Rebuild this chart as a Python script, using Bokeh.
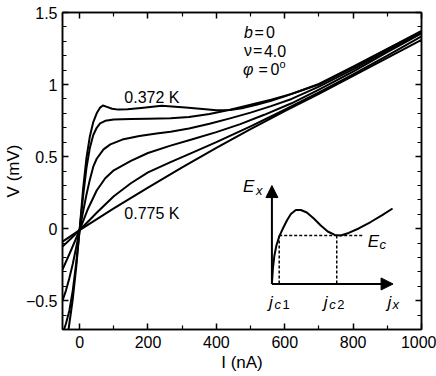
from bokeh.plotting import figure
from bokeh.models import Range1d, LinearAxis, FixedTicker, Label, Arrow, NormalHead
from bokeh.embed import file_html
from bokeh.resources import INLINE

# ---------------- data ----------------
x_major = [0, 200, 400, 600, 800, 1000]
x_minor = [100, 300, 500, 700, 900]
y_major = [-0.5, 0, 0.5, 1, 1.5]
y_minor = [-0.6, -0.4, -0.3, -0.2, -0.1, 0.1, 0.2, 0.3, 0.4, 0.6, 0.7, 0.8, 0.9,
           1.1, 1.2, 1.3, 1.4]
y_labels = {-0.5: "\u22120.5", 0: "0", 0.5: "0.5", 1: "1", 1.5: "1.5"}
x_title = "I (nA)"
y_title = "V (mV)"

# V-I curves (I in nA, V in mV), 0.372 K (top) ... 0.775 K (bottom)
I1 = [-36, -30, -20, -10, 0, 10, 20, 30, 40, 50, 60, 68, 80, 95, 113, 140, 180, 220,
      240, 270, 310, 360, 400, 440, 480, 520, 560, 600, 650, 700, 800, 900, 1000]
V1 = [-0.76, -0.66, -0.49, -0.27, -0.01, 0.27, 0.49, 0.64, 0.74, 0.80, 0.84, 0.855,
      0.845, 0.832, 0.826, 0.828, 0.838, 0.848, 0.852, 0.848, 0.84, 0.83, 0.822, 0.824,
      0.838, 0.862, 0.888, 0.918, 0.96, 1.005, 1.125, 1.248, 1.372]

I2 = [-47, -40, -30, -20, -10, 0, 10, 20, 30, 40, 50, 60, 75, 100, 150, 200, 266, 320,
      380, 440, 500, 560, 620, 700, 800, 900, 1000]
V2 = [-0.71, -0.66, -0.57, -0.43, -0.24, -0.01, 0.22, 0.42, 0.56, 0.65, 0.70, 0.73,
      0.748, 0.757, 0.761, 0.763, 0.766, 0.774, 0.795, 0.825, 0.86, 0.895, 0.935, 1.0,
      1.12, 1.245, 1.368]

I3 = [-50, -40, -30, -20, -10, 0, 10, 20, 30, 40, 50, 70, 90, 125, 175, 225, 266, 320,
      380, 440, 500, 560, 620, 700, 800, 900, 1000]
V3 = [-0.50, -0.43, -0.345, -0.245, -0.13, -0.01, 0.115, 0.235, 0.34, 0.43, 0.485, 0.55,
      0.585, 0.618, 0.643, 0.66, 0.672, 0.695, 0.728, 0.765, 0.805, 0.85, 0.9, 0.985,
      1.105, 1.235, 1.362]

I4 = [-50, -25, 0, 25, 50, 75, 100, 150, 200, 266, 330, 400, 470, 540, 620, 700, 800,
      900, 1000]
V4 = [-0.285, -0.15, -0.01, 0.14, 0.265, 0.35, 0.405, 0.47, 0.525, 0.576, 0.62, 0.67,
      0.725, 0.79, 0.87, 0.965, 1.09, 1.225, 1.355]

I5 = [-50, -25, 0, 25, 50, 100, 150, 200, 266, 330, 400, 500, 600, 700, 800, 900, 1000]
V5 = [-0.125, -0.068, -0.01, 0.05, 0.11, 0.225, 0.315, 0.39, 0.461, 0.528, 0.6, 0.71,
      0.825, 0.945, 1.07, 1.2, 1.335]

I6 = [-50, 0, 100, 200, 300, 400, 500, 600, 700, 800, 900, 1000]
V6 = [-0.09, -0.01, 0.14, 0.285, 0.425, 0.56, 0.69, 0.815, 0.935, 1.06, 1.185, 1.31]

curves_I = [I1, I2, I3, I4, I5, I6]
curves_V = [V1, V2, V3, V4, V5, V6]

# inset sketch E_x(j_x), drawn in the main plot's units
inset_j = [562.5, 565.4, 569.8, 575.6, 583.8, 594.6, 606.3, 617.9, 632.5, 647.1, 664.6,
           685.0, 705.4, 725.8, 746.3, 763.7, 787.1, 816.3, 851.3, 886.3, 915.4]
inset_E = [-0.384, -0.277, -0.186, -0.117, -0.055, 0.001, 0.056, 0.102, 0.129, 0.129,
           0.112, 0.070, 0.022, -0.020, -0.044, -0.048, -0.030, 0.001, 0.046, 0.095, 0.140]
inset_origin = (562.5, -0.384)
inset_E_top = 0.299
inset_j_end = 916.9
inset_jc1 = 583.8
inset_jc2 = 752.1
inset_Ec = -0.048
inset_Ec_end = 827.0

# ---------------- figure ----------------
W, H = 436, 376
ML, MR, MT, MB = 61, 15, 12, 47
X0, X1, Y0, Y1 = -50, 1000, -0.7, 1.5

p = figure(width=W, height=H, x_range=Range1d(X0, X1), y_range=Range1d(Y0, Y1),
           output_backend="svg", toolbar_location=None,
           min_border_left=ML, min_border_right=MR, min_border_top=MT,
           min_border_bottom=MB)
p.xgrid.visible = False
p.ygrid.visible = False
p.outline_line_color = "black"
p.outline_line_width = 1.5
p.background_fill_color = "white"
p.border_fill_color = "white"

FONT = "Liberation Sans"


def style_axis(ax, show_labels, label_standoff=6, title_standoff=0):
    ax.axis_line_color = "black"
    ax.axis_line_width = 1.5
    ax.major_tick_line_width = 1.5
    ax.minor_tick_line_width = 1.2
    ax.major_tick_in = 6
    ax.major_tick_out = 0
    ax.minor_tick_in = 4
    ax.minor_tick_out = 0
    ax.major_label_text_font = FONT
    if show_labels:
        ax.major_label_text_color = "black"
        ax.major_label_text_font_size = "16px"
        ax.major_label_standoff = label_standoff
        ax.axis_label_text_font = FONT
        ax.axis_label_text_font_size = "17px"
        ax.axis_label_text_font_style = "normal"
        ax.axis_label_text_color = "black"
        ax.axis_label_standoff = title_standoff
    else:
        ax.major_label_text_color = None
        ax.major_label_text_font_size = "0px"
        ax.major_label_standoff = 0


xt = FixedTicker(ticks=x_major, minor_ticks=x_minor)
yt = FixedTicker(ticks=y_major, minor_ticks=y_minor)
p.xaxis.ticker = xt
p.yaxis.ticker = yt
p.yaxis.major_label_overrides = y_labels
p.xaxis.axis_label = x_title
p.yaxis.axis_label = y_title
style_axis(p.xaxis[0], True, label_standoff=6, title_standoff=2)
style_axis(p.yaxis[0], True, label_standoff=5, title_standoff=0)

top_ax = LinearAxis(ticker=FixedTicker(ticks=x_major, minor_ticks=x_minor))
right_ax = LinearAxis(ticker=FixedTicker(ticks=y_major, minor_ticks=y_minor))
style_axis(top_ax, False)
style_axis(right_ax, False)
p.add_layout(top_ax, "above")
p.add_layout(right_ax, "right")

# curves
for Ii, Vi in zip(curves_I, curves_V):
    p.line(Ii, Vi, line_color="black", line_width=2, line_join="round")

# inset
p.line(inset_j, inset_E, line_color="black", line_width=2, line_join="round")
p.line([inset_jc1, inset_Ec_end], [inset_Ec, inset_Ec], line_color="black",
       line_width=1.5, line_dash="3 2")
p.line([inset_jc1, inset_jc1], [inset_Ec, inset_origin[1]], line_color="black",
       line_width=1.5, line_dash="3 2")
p.line([inset_jc2, inset_jc2], [inset_Ec, inset_origin[1]], line_color="black",
       line_width=1.5, line_dash="3 2")
p.add_layout(Arrow(end=NormalHead(size=12, fill_color="black", line_color="black"),
                   x_start=inset_origin[0], y_start=inset_origin[1],
                   x_end=inset_origin[0], y_end=inset_E_top,
                   line_color="black", line_width=2))
p.add_layout(Arrow(end=NormalHead(size=12, fill_color="black", line_color="black"),
                   x_start=inset_origin[0], y_start=inset_origin[1],
                   x_end=inset_j_end, y_end=inset_origin[1],
                   line_color="black", line_width=2))

# ---------------- text ----------------
SX = (W - ML - MR) / (X1 - X0)
SY = (H - MT - MB) / (Y1 - Y0)
OX, OY = ML, MT


def put(text, xi, yi, size=15, italic=False, align="left"):
    x = X0 + (xi - OX) / SX
    y = Y1 - (yi - OY) / SY
    p.add_layout(Label(x=x, y=y, text=text, text_font=FONT,
                       text_font_size=f"{size}px",
                       text_font_style="italic" if italic else "normal",
                       text_color="black", text_align=align, text_baseline="middle"))


# curve labels
put("0.372 K", 123, 96.5, 16)
put("0.775 K", 123, 213, 16)

# parameters
put("b", 243, 31.5, 16, True)
put("=", 253.5, 31.5, 16)
put("0", 265, 31.5, 16)
put("\u03bd", 243, 50, 16)
put("=", 252, 50, 16)
put("4.0", 263, 50, 16)
put("\u03c6", 242, 68.5, 16, True)
put("=", 257.5, 68.5, 16)
put("0", 269.5, 68.5, 16)
put("o", 278.5, 63, 11)

# inset labels
put("E", 242, 186, 17, True)
put("x", 255, 190, 13, True)
put("E", 367, 241, 17, True)
put("c", 379, 244, 13, True)
put("j", 268, 302, 17, True)
put("c", 273.5, 304, 13, True)
put("1", 281.5, 304, 13)
put("j", 323, 302, 17, True)
put("c", 328.5, 304, 13, True)
put("2", 336.5, 304, 13)
put("j", 387, 302, 17, True)
put("x", 392, 304, 13, True)

open("out.html", "w").write(file_html(p, INLINE))
